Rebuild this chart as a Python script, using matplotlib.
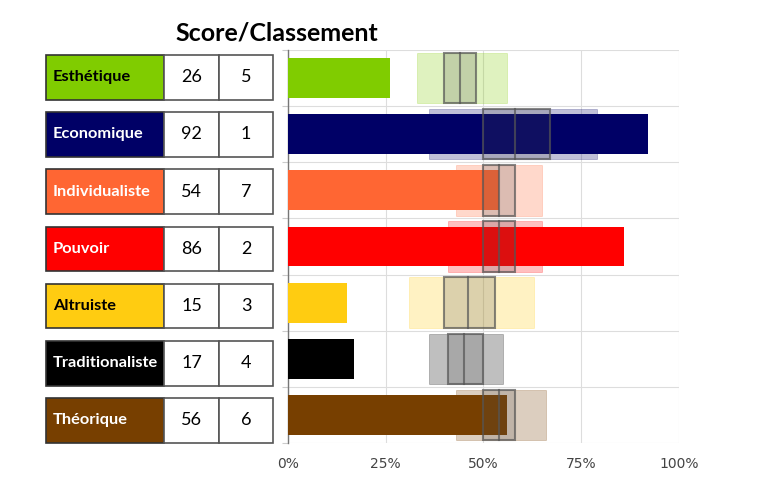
import numpy as np
import matplotlib.pyplot as plt
from matplotlib.patches import Rectangle

categories = ['Esthétique', 'Economique', 'Individualiste', 'Pouvoir',
              'Altruiste', 'Traditionaliste', 'Théorique']
scores = [26, 92, 54, 86, 15, 17, 56]
ranks = [5, 1, 7, 2, 3, 4, 6]
# range boxes (light) and quartile boxes (dark), in %
low = [33, 36, 43, 41, 31, 36, 43]
high = [56, 79, 65, 65, 63, 55, 66]
q1 = [40, 50, 50, 50, 40, 41, 50]
q3 = [48, 67, 58, 58, 53, 50, 58]
med = [44, 58, 54, 54, 46, 45, 54]
colors = ['#80cc00', '#000066', '#ff6633', '#ff0000', '#ffcc11', '#000000', '#773f00']
text_colors = ['black', 'white', 'white', 'white', 'black', 'white', 'white']
ticks = [0, 25, 50, 75, 100]
tick_labels = ['0%', '25%', '50%', '75%', '100%']

plt.rcParams['font.family'] = ['Lato', 'DejaVu Sans']

W, H = 767, 491
fig = plt.figure(figsize=(W / 100, H / 100), dpi=100)

# --- chart ---
ax = fig.add_axes([288 / W, 48 / H, 391 / W, 393 / H])
n = len(categories)
ax.set_xlim(0, 100)
ax.set_ylim(n, 0)
for s in ['top', 'right', 'bottom']:
    ax.spines[s].set_visible(False)
ax.spines['left'].set_color('#777777')
ax.spines['left'].set_linewidth(1.0)
ax.set_xticks(ticks)
ax.set_xticklabels(tick_labels, color='#444444', fontsize=10, family=['DejaVu Sans'])
ax.tick_params(axis='x', length=0, pad=10)
ax.set_yticks(np.arange(n + 1))
ax.set_yticklabels([])
ax.tick_params(axis='y', length=4, color='#cccccc')
ax.set_axisbelow(True)
ax.grid(True, color='#dddddd', linewidth=0.8)

for i in range(n):
    yc = i + 0.5
    ax.add_patch(Rectangle((low[i], yc - 0.45), high[i] - low[i], 0.9,
                           facecolor=colors[i], alpha=0.25, edgecolor=colors[i],
                           linewidth=0.6, zorder=2))
    ax.barh(yc, scores[i], height=0.71, color=colors[i], zorder=3)
    ax.add_patch(Rectangle((q1[i], yc - 0.45), q3[i] - q1[i], 0.9,
                           facecolor='#505050', alpha=0.2, edgecolor='none', zorder=4))
    ax.add_patch(Rectangle((q1[i], yc - 0.45), q3[i] - q1[i], 0.9,
                           facecolor='none', edgecolor='#555555', alpha=0.7,
                           linewidth=1.5, zorder=5))
    ax.plot([med[i], med[i]], [yc - 0.45, yc + 0.45], color='#555555', alpha=0.7,
            linewidth=1.5, zorder=5)

# --- table ---
tx = fig.add_axes([0, 41 / H, 288 / W, 400 / H])
tx.set_xlim(0, 288)
tx.set_ylim(400, 0)
tx.axis('off')
step = 57.2
for i in range(n):
    y0 = i * step + 5
    h = 44.5
    tx.add_patch(Rectangle((46, y0), 118, h, facecolor=colors[i],
                           edgecolor='#333333', linewidth=1.2))
    tx.add_patch(Rectangle((164, y0), 55, h, facecolor='white',
                           edgecolor='#555555', linewidth=1.2))
    tx.add_patch(Rectangle((219, y0), 54, h, facecolor='white',
                           edgecolor='#555555', linewidth=1.2))
    tx.text(53, y0 + h / 2, categories[i], color=text_colors[i], fontsize=11.8,
            fontweight='bold', ha='left', va='center')
    tx.text(191.5, y0 + h / 2, str(scores[i]), fontsize=13, ha='center', va='center')
    tx.text(246, y0 + h / 2, str(ranks[i]), fontsize=13, ha='center', va='center')

fig.text(277 / W, 1 - 33 / H, 'Score/Classement', fontsize=18, fontweight='bold',
         ha='center', va='center')

fig.savefig('out.png', dpi=100)
